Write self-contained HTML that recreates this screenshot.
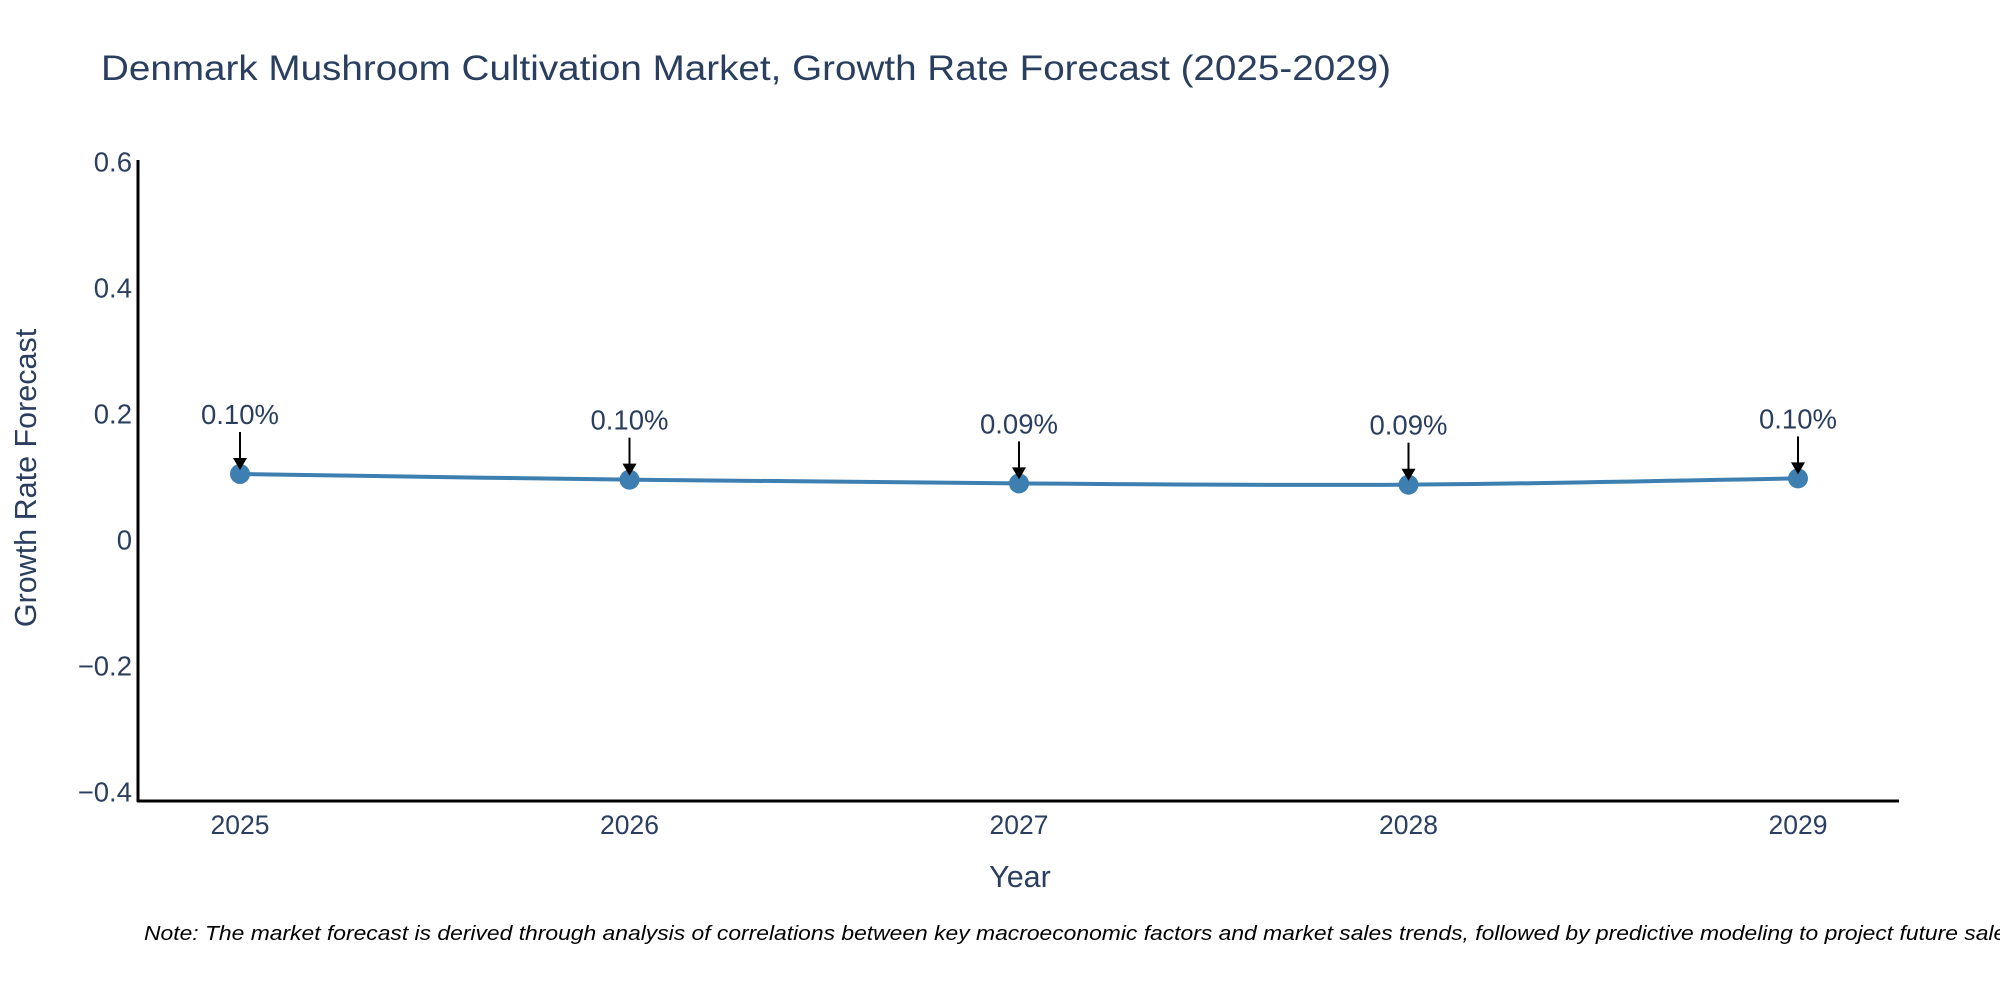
<!DOCTYPE html>
<html><head><meta charset="utf-8"><style>
html,body{margin:0;padding:0;background:#fff;width:2000px;height:1000px;overflow:hidden}
svg text{font-family:"Liberation Sans","DejaVu Sans",sans-serif;fill:#2a3f5f}
</style></head><body>
<svg id="chart" width="2000" height="1000" viewBox="0 0 2000 1000" xmlns="http://www.w3.org/2000/svg">
<text x="101" y="80" font-size="35" textLength="1290" lengthAdjust="spacingAndGlyphs">Denmark Mushroom Cultivation Market, Growth Rate Forecast (2025-2029)</text>
<g id="yticks"></g>
<g id="xticks"></g>
<line x1="138" y1="160" x2="138" y2="802" stroke="#000" stroke-width="3"/>
<line x1="137" y1="801" x2="1899" y2="801" stroke="#000" stroke-width="3"/>
<text transform="translate(36,478) rotate(-90)" text-anchor="middle" font-size="30.5">Growth Rate Forecast</text>
<text x="1020" y="887" text-anchor="middle" font-size="30.5">Year</text>
<g id="series"></g>
<g id="annots"></g>
<text x="144" y="940" font-size="20" font-style="italic" textLength="1880" lengthAdjust="spacingAndGlyphs" style="fill:#000">Note: The market forecast is derived through analysis of correlations between key macroeconomic factors and market sales trends, followed by predictive modeling to project future sales.</text>
</svg>
<script>
const years = ["2025","2026","2027","2028","2029"];
const growth = [0.104, 0.095, 0.089, 0.087, 0.097];
const labels = ["0.10%","0.10%","0.09%","0.09%","0.10%"];
const yTickVals = [0.6, 0.4, 0.2, 0, -0.2, -0.4];
const yTickLabels = ["0.6","0.4","0.2","0","\u22120.2","\u22120.4"];

const NS="http://www.w3.org/2000/svg";
const x = i => 240 + i*389.5;
const y = v => 539.5 - v*630;
function mk(tag, attrs, parent){const e=document.createElementNS(NS,tag);for(const k in attrs)e.setAttribute(k,attrs[k]);parent.appendChild(e);return e;}

const yt=document.getElementById('yticks');
yTickVals.forEach((v,i)=>{
  const t=mk('text',{x:132,y:y(v)+10,'text-anchor':'end','font-size':'27.5'},yt);
  
  
  t.textContent=yTickLabels[i];
});
const xt=document.getElementById('xticks');
years.forEach((yr,i)=>{
  const t=mk('text',{x:x(i),y:834,'text-anchor':'middle','font-size':'26.5'},xt);
  
  
  t.textContent=yr;
});

const s=document.getElementById('series');
const pts=growth.map((v,i)=>[x(i),y(v)]);
let d=`M${pts[0][0]},${pts[0][1]}`;
for(let i=0;i<pts.length-1;i++){
  const p0=pts[Math.max(0,i-1)],p1=pts[i],p2=pts[i+1],p3=pts[Math.min(pts.length-1,i+2)];
  const k=1/6;
  d+=` C${p1[0]+(p2[0]-p0[0])*k},${p1[1]+(p2[1]-p0[1])*k} ${p2[0]-(p3[0]-p1[0])*k},${p2[1]-(p3[1]-p1[1])*k} ${p2[0]},${p2[1]}`;
}
const ln=mk('path',{d:d,fill:'none',stroke:'#3d7fb1','stroke-width':'4'},s);


pts.forEach(p=>{
  const c=mk('circle',{cx:p[0],cy:p[1],r:10,fill:'#3d7fb1'},s);
  
  
});

const a=document.getElementById('annots');
pts.forEach((p,i)=>{
  const l=mk('line',{x1:p[0],y1:p[1]-42,x2:p[0],y2:p[1]-14,stroke:'#000','stroke-width':'2'},a);
  
  
  const h=mk('polygon',{points:`${p[0]-7},${p[1]-16} ${p[0]+7},${p[1]-16} ${p[0]},${p[1]-4}`,fill:'#000'},a);
  
  
  const t=mk('text',{x:p[0],y:p[1]-50,'text-anchor':'middle','font-size':'27.5'},a);
  
  
  t.textContent=labels[i];
});
</script>
</body></html>
